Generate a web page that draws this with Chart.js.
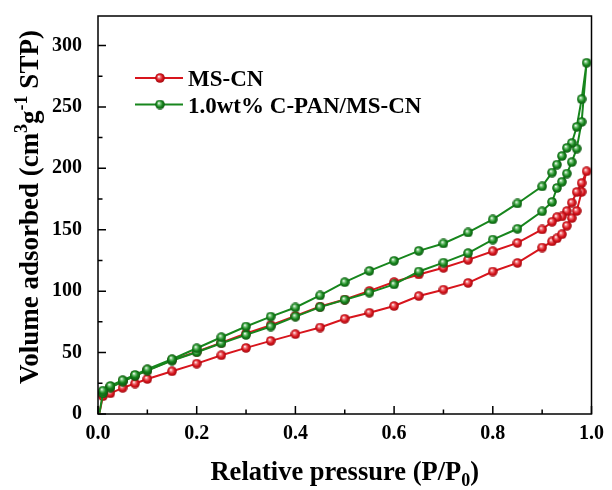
<!DOCTYPE html>
<html>
<head>
<meta charset="utf-8">
<script src="https://cdn.jsdelivr.net/npm/chart.js@4.4.1/dist/chart.umd.min.js"></script>
<style>
  html, body { margin: 0; padding: 0; background: #fff; }
  #wrap { width: 612px; height: 490px; }
</style>
</head>
<body>
<div id="wrap"><canvas id="isoChart" width="612" height="490"></canvas></div>
<script>
// Relative pressure points, adsorption (up) and desorption (down)
const adsP = [0.003, 0.01, 0.025, 0.05, 0.075, 0.1, 0.15, 0.2, 0.25, 0.3, 0.35, 0.4, 0.45, 0.5, 0.55,
              0.6, 0.65, 0.7, 0.75, 0.8, 0.85, 0.9, 0.92, 0.93, 0.94, 0.95, 0.96, 0.97, 0.98, 0.99];
const desP = [0.98, 0.97, 0.96, 0.95, 0.94, 0.93, 0.92, 0.9, 0.85, 0.8, 0.75, 0.7, 0.65, 0.6, 0.55,
              0.5, 0.45, 0.4, 0.35, 0.3, 0.25, 0.2, 0.15, 0.1, 0.075, 0.05, 0.025, 0.01];

// MS-CN
const msAds = [1, 14.5, 16.8, 21.3, 24.8, 28.5, 34.8, 41, 47.8, 53.8, 59.5, 65, 70.4, 77.5, 82.4,
               87.9, 96, 101.2, 106.7, 116, 123, 135.5, 140.5, 143, 146.3, 153.2, 159.5, 165.3, 180.8, 197.6];
const msDes = [188, 180.7, 172, 165.2, 160.8, 160.2, 156.5, 150.2, 139.3, 132.5, 125.5, 119, 113.6, 107.4, 100.2,
               93.2, 87.5, 79.8, 72.3, 65.5, 58, 50.8, 43.8, 35.6, 31.3, 26.6, 21.8, 17];

// 1.0wt% C-PAN/MS-CN
const cpAds = [1, 16.8, 21.5, 26.4, 31, 35.3, 43.5, 50.3, 57.6, 64.4, 71.2, 79.3, 87, 93, 98.8,
               105.5, 116, 123.2, 131, 142, 150.8, 165, 172.6, 184, 189, 195.7, 205, 216, 237.8, 285.9];
const cpDes = [256.3, 233.7, 220.6, 216.6, 210, 203, 196.5, 185.3, 171.4, 158.4, 147.8, 138.8, 132.8, 124.7, 116.5,
               107.3, 96.5, 86.7, 79.3, 71.2, 62.5, 53.5, 44.6, 36.4, 31.8, 27.5, 22.8, 19];

const seriesNames = ['MS-CN', '1.0wt% C-PAN/MS-CN'];

const RED = '#d8151d';
const GREEN = '#17861d';
const FONT = '"Liberation Serif", "Times New Roman", serif';

// join adsorption + desorption into one loop
function loop(ads, des) {
    const pts = adsP.map((p, i) => ({ x: p, y: ads[i] }));
    return pts.concat(desP.map((p, i) => ({ x: p, y: des[i] })));
}

// small shaded ball used as marker
function makeBall(color, light, dark) {
    const c = document.createElement('canvas');
    c.width = 10; c.height = 10;
    const g = c.getContext('2d');
    const grad = g.createRadialGradient(3.8, 3.5, 0.2, 5, 5, 5);
    grad.addColorStop(0, '#ffffff');
    grad.addColorStop(0.25, light);
    grad.addColorStop(0.6, color);
    grad.addColorStop(1, dark);
    g.fillStyle = grad;
    g.beginPath();
    g.arc(5, 5, 4.8, 0, Math.PI * 2);
    g.fill();
    return c;
}
const redBall = makeBall(RED, '#f07a7e', '#9c0a10');
const greenBall = makeBall(GREEN, '#7cc77f', '#0c5510');

// inward ticks, frame, axis titles and legend
const framePlugin = {
    id: 'framePlugin',
    afterDraw: (chart) => {
        const ctx = chart.ctx;
        const area = chart.chartArea;
        const xs = chart.scales.x;
        const ys = chart.scales.y;
        ctx.save();
        ctx.strokeStyle = '#000';
        ctx.lineWidth = 1.5;
        ctx.strokeRect(area.left, area.top, area.right - area.left, area.bottom - area.top);

        ctx.beginPath();
        xs.ticks.forEach((t, i) => {
            const px = xs.getPixelForValue(t.value);
            ctx.moveTo(px, area.bottom); ctx.lineTo(px, area.bottom - 8);
            if (i < xs.ticks.length - 1) {
                const mx = xs.getPixelForValue((t.value + xs.ticks[i + 1].value) / 2);
                ctx.moveTo(mx, area.bottom); ctx.lineTo(mx, area.bottom - 4.5);
            }
        });
        ys.ticks.forEach((t, i) => {
            const py = ys.getPixelForValue(t.value);
            ctx.moveTo(area.left, py); ctx.lineTo(area.left + 8, py);
            if (i < ys.ticks.length - 1) {
                const my = ys.getPixelForValue((t.value + ys.ticks[i + 1].value) / 2);
                ctx.moveTo(area.left, my); ctx.lineTo(area.left + 4.5, my);
            }
        });
        ctx.stroke();

        ctx.fillStyle = '#000';
        ctx.textBaseline = 'alphabetic';

        // x title with subscript
        const bigX = 'bold 26.5px ' + FONT;
        const smallX = 'bold 18px ' + FONT;
        const xa = 'Relative pressure (P/P', xc = ')';
        ctx.font = smallX;
        const wSub = ctx.measureText('0').width;
        ctx.font = bigX;
        const xw = ctx.measureText(xa).width + wSub + ctx.measureText(xc).width;
        let cx = (area.left + area.right) / 2 - xw / 2;
        const by = 480;
        ctx.textAlign = 'left';
        ctx.fillText(xa, cx, by); cx += ctx.measureText(xa).width;
        ctx.font = smallX; ctx.fillText('0', cx, by + 6); cx += wSub;
        ctx.font = bigX; ctx.fillText(xc, cx, by);

        // y title with superscripts
        const bigY = 'bold 27px ' + FONT;
        const smallY = 'bold 18px ' + FONT;
        const parts = [['Volume adsorbed (cm', bigY, 0], ['3', smallY, -11], ['g', bigY, 0],
                       ['-1', smallY, -11], [' STP)', bigY, 0]];
        let total = 0;
        parts.forEach(p => { ctx.font = p[1]; total += ctx.measureText(p[0]).width; });
        ctx.translate(38, 207);
        ctx.rotate(-Math.PI / 2);
        let tx = -total / 2;
        parts.forEach(p => {
            ctx.font = p[1];
            ctx.fillText(p[0], tx, p[2]);
            tx += ctx.measureText(p[0]).width;
        });
        ctx.setTransform(1, 0, 0, 1, 0, 0);

        // legend
        const legend = [[seriesNames[0], RED, redBall, 78], [seriesNames[1], GREEN, greenBall, 104.5]];
        ctx.font = 'bold 23px ' + FONT;
        legend.forEach(l => {
            ctx.strokeStyle = l[1];
            ctx.lineWidth = 2;
            ctx.beginPath();
            ctx.moveTo(135, l[3]); ctx.lineTo(183, l[3]);
            ctx.stroke();
            ctx.drawImage(l[2], 160 - 5, l[3] - 5);
            ctx.fillStyle = '#000';
            ctx.fillText(l[0], 188, l[3] + 8);
        });
        ctx.restore();
    }
};

var isoCtx = document.getElementById('isoChart').getContext('2d');
var isoChart = new Chart(isoCtx, {
    type: 'line',
    data: {
        datasets: [{
            label: seriesNames[0],
            data: loop(msAds, msDes),
            borderColor: RED,
            borderWidth: 2,
            pointStyle: redBall,
            pointRadius: (c) => c.dataIndex === 0 ? 0 : 5,
            tension: 0,
            order: 1
        }, {
            label: seriesNames[1],
            data: loop(cpAds, cpDes),
            borderColor: GREEN,
            borderWidth: 2,
            pointStyle: greenBall,
            pointRadius: (c) => c.dataIndex === 0 ? 0 : 5,
            tension: 0,
            order: 0
        }]
    },
    options: {
        responsive: false,
        animation: false,
        layout: {
            padding: { left: 0, right: 17, top: 16, bottom: 0 }
        },
        scales: {
            x: {
                type: 'linear',
                min: 0,
                max: 1,
                grid: { display: false, drawTicks: false },
                border: { display: false },
                ticks: {
                    stepSize: 0.2,
                    padding: 8,
                    color: '#000',
                    font: { family: FONT, size: 20, weight: 'bold' },
                    callback: (v) => v.toFixed(1)
                },
                afterFit: (scale) => { scale.height = 76; }
            },
            y: {
                min: 0,
                max: 324,
                grid: { display: false, drawTicks: false },
                border: { display: false },
                ticks: {
                    stepSize: 50,
                    includeBounds: false,
                    padding: 16,
                    color: '#000',
                    font: { family: FONT, size: 20, weight: 'bold' }
                },
                afterFit: (scale) => {
                    scale.width = 98;
                    scale.paddingTop = 0;
                    scale.paddingBottom = 0;
                }
            }
        },
        plugins: {
            legend: { display: false },
            tooltip: { enabled: false }
        }
    },
    plugins: [framePlugin]
});
</script>
</body>
</html>
